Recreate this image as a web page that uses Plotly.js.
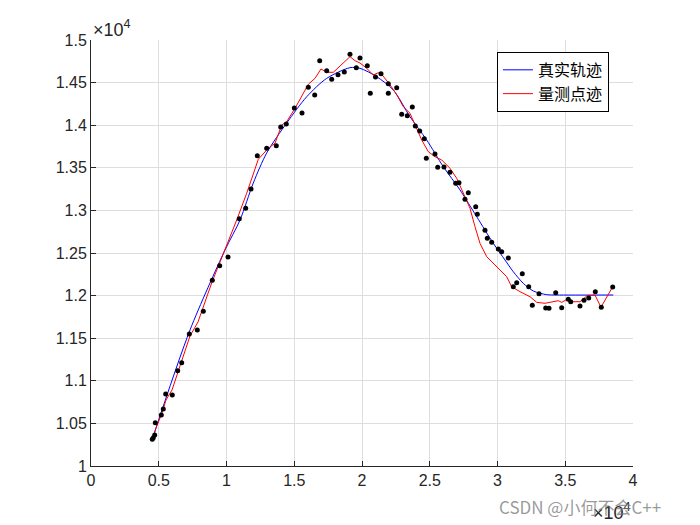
<!DOCTYPE html>
<html>
<head>
<meta charset="utf-8">
<script src="https://cdn.plot.ly/plotly-3.0.1.min.js"></script>
<style>html,body{margin:0;padding:0;background:#fff;}#chart{width:700px;height:525px;}</style>
</head>
<body>
<div id="chart"></div>
<script>
// True trajectory (blue)
const trueX = [4502, 7306, 9889, 10996, 11978, 12967, 14443, 15919, 17395, 19114, 19852, 21085, 22310, 23542, 24775, 26000, 27232, 28465, 29690, 30553, 31166, 31904, 32642, 33631, 34369, 38546];
const trueY = [10305, 11596, 12535, 12887, 13322, 13674, 14026, 14334, 14550, 14675, 14668, 14569, 14413, 14100, 13826, 13513, 13240, 12926, 12614, 12418, 12280, 12144, 12054, 12011, 12007, 12007];

// Filtered / measured track (red)
const measX = [4502, 4797, 5240, 5535, 5978, 6568, 7306, 7897, 8413, 8930, 9520, 9889, 10753, 11491, 12347, 13085, 13579, 14074, 14443, 15055, 16037, 16531, 16974, 17395, 17882, 19114, 19483, 19852, 20347, 20834, 21203, 21454, 22066, 22561, 23048, 23542, 23911, 24406, 24893, 25387, 25882, 26494, 26989, 27476, 27970, 28339, 28708, 29203, 29941, 30679, 31048, 31660, 32398, 32893, 33505, 34000, 34487, 34738, 35151, 35476, 36088, 36583, 37195, 37638, 38502];
const measY = [10293, 10446, 10622, 10775, 10892, 11174, 11526, 11690, 11925, 12160, 12394, 12535, 12887, 13201, 13600, 13729, 13788, 14002, 14041, 14198, 14480, 14550, 14660, 14621, 14621, 14804, 14757, 14730, 14668, 14589, 14616, 14597, 14475, 14358, 14217, 14140, 14002, 13826, 13689, 13630, 13592, 13494, 13377, 13201, 13025, 12809, 12614, 12457, 12339, 12222, 12104, 12046, 11987, 11921, 11910, 11928, 11940, 11921, 11957, 11928, 11928, 11995, 12007, 11863, 12104];

// Measurement points (black dots)
const dotX = [4524, 4598, 4701, 4745, 5188, 5336, 5513, 6000, 6398, 6694, 7255, 7845, 8288, 8952, 9498, 10111, 10945, 11417, 11808, 12273, 12967, 13675, 14000, 14413, 15004, 15572, 16037, 16509, 16878, 17395, 17764, 18229, 18694, 19114, 19579, 19852, 20391, 20612, 20996, 21402, 21941, 21941, 22561, 22930, 23343, 23712, 23933, 24258, 24598, 24745, 25387, 25587, 26051, 26494, 26915, 27158, 27601, 27845, 28391, 28509, 29077, 29247, 29572, 30059, 30310, 30797, 31166, 31417, 31830, 32303, 32569, 33063, 33557, 33801, 34295, 34738, 35225, 35402, 36088, 36383, 36730, 37217, 37660, 38502];
const dotY = [10313, 10332, 10364, 10508, 10599, 10669, 10845, 10833, 11119, 11212, 11549, 11596, 11816, 12180, 12351, 12453, 12903, 13025, 13251, 13642, 13729, 13759, 13979, 14014, 14202, 14143, 14445, 14354, 14757, 14640, 14539, 14593, 14624, 14832, 14675, 14789, 14698, 14374, 14566, 14604, 14487, 14374, 14440, 14128, 14112, 14214, 13991, 13932, 13842, 13612, 13662, 13506, 13509, 13447, 13318, 13325, 13130, 13208, 13043, 12954, 12766, 12673, 12626, 12547, 12516, 12441, 12104, 12151, 12257, 12104, 11886, 12022, 11854, 11851, 12034, 11858, 11957, 11928, 11878, 11945, 11972, 12046, 11863, 12101];

// Tick labels
const xTickVals = [0, 5000, 10000, 15000, 20000, 25000, 30000, 35000, 40000];
const xTickText = ['0', '0.5', '1', '1.5', '2', '2.5', '3', '3.5', '4'];
const yTickVals = [10000, 10500, 11000, 11500, 12000, 12500, 13000, 13500, 14000, 14500, 15000];
const yTickText = ['1', '1.05', '1.1', '1.15', '1.2', '1.25', '1.3', '1.35', '1.4', '1.45', '1.5'];
const legendNames = ['真实轨迹', '量测点迹'];

const tickFont = {family: 'Liberation Sans, Arial, sans-serif', size: 16, color: '#262626'};
const expFont = {family: 'Liberation Sans, Arial, sans-serif', size: 18, color: '#262626'};

const traces = [
  {x: trueX, y: trueY, mode: 'lines', name: legendNames[0], line: {color: '#0000ff', width: 1, shape: 'spline', smoothing: 0.8}},
  {x: measX, y: measY, mode: 'lines', name: legendNames[1], line: {color: '#ff0000', width: 1}},
  {x: dotX, y: dotY, mode: 'markers', showlegend: false, marker: {color: '#000000', size: 5}}
];

const layout = {
  width: 700, height: 525,
  margin: {l: 91, r: 67, t: 40, b: 59},
  paper_bgcolor: '#ffffff', plot_bgcolor: '#ffffff',
  showlegend: true,
  legend: {
    x: 0.749, y: 0.972, xanchor: 'left', yanchor: 'top',
    bgcolor: '#ffffff', bordercolor: '#000000', borderwidth: 1,
    font: {family: 'Noto Sans CJK SC, sans-serif', size: 16, color: '#000000'},
    tracegroupgap: 0, itemwidth: 30
  },
  xaxis: {
    range: [0, 40000], tickmode: 'array', tickvals: xTickVals, ticktext: xTickText,
    showgrid: true, gridcolor: '#dedede', gridwidth: 1, zeroline: false,
    showline: true, linecolor: '#262626', linewidth: 1, mirror: false,
    ticks: 'inside', ticklen: 5, tickcolor: '#262626', tickfont: tickFont
  },
  yaxis: {
    range: [10000, 15000], tickmode: 'array', tickvals: yTickVals, ticktext: yTickText,
    showgrid: true, gridcolor: '#dedede', gridwidth: 1, zeroline: false,
    showline: true, linecolor: '#262626', linewidth: 1, mirror: false,
    ticks: 'inside', ticklen: 5, tickcolor: '#262626', tickfont: tickFont
  },
  annotations: [
    {text: '×10<sup>4</sup>', xref: 'paper', yref: 'paper', x: 0, y: 1.0, xanchor: 'left', yanchor: 'bottom',
     showarrow: false, font: expFont, yshift: -2},
    {text: '×10<sup>4</sup>', xref: 'paper', yref: 'paper', x: 1.0, y: -0.075, xanchor: 'right', yanchor: 'top',
     showarrow: false, font: expFont},
    {text: 'CSDN @小何不会C++', xref: 'paper', yref: 'paper', x: 0.749, y: -0.094, xanchor: 'left', yanchor: 'middle',
     showarrow: false, font: {family: 'Noto Sans CJK SC, sans-serif', size: 17, color: 'rgba(120,120,120,0.75)'}}
  ]
};

Plotly.newPlot('chart', traces, layout, {displayModeBar: false, staticPlot: true});
</script>
</body>
</html>
